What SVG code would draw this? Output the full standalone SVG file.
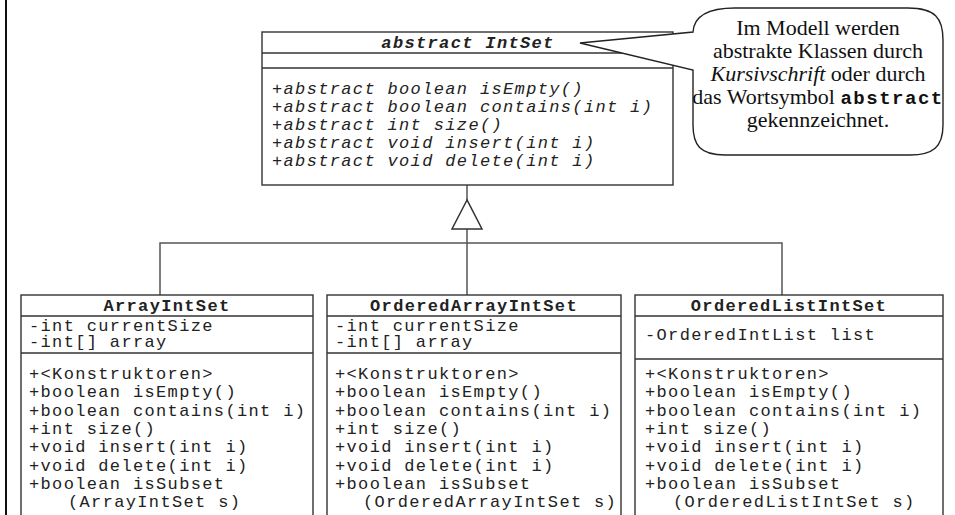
<svg xmlns="http://www.w3.org/2000/svg" width="955" height="515" viewBox="0 0 955 515">
<style>
.box{fill:#fff;stroke:#333;stroke-width:1.4}
.div{stroke:#333;stroke-width:1.4}
.mono{font-family:"Liberation Mono","Courier New",monospace;font-size:17px;letter-spacing:1.35px;fill:#222}
.it{font-style:italic}
.title{font-weight:bold;text-anchor:middle}
.serif{font-family:"Liberation Serif","Times New Roman",serif;font-size:22px;fill:#111;text-anchor:middle}
.con{fill:none;stroke:#555;stroke-width:1.5}
</style>
<rect width="955" height="515" fill="#fff"/>
<line x1="6" y1="0" x2="6" y2="515" stroke="#111" stroke-width="2"/>

<g id="connectors">
<line class="con" x1="467" y1="185" x2="467" y2="200"/>
<line class="con" x1="467" y1="229" x2="467" y2="295"/>
<polyline class="con" points="160,295 160,243 782,243 782,295"/>
<polygon points="467,200 452,229 482,229" fill="#fff" stroke="#333" stroke-width="1.5"/>
</g>

<g id="IntSet">
<rect class="box" x="262" y="32" width="411" height="153"/>
<line class="div" x1="262" y1="53" x2="673" y2="53"/>
<line class="div" x1="262" y1="68" x2="673" y2="68"/>
<text class="mono it title" x="468" y="48">abstract IntSet</text>
<text class="mono it" x="272" y="93.5">+abstract boolean isEmpty()</text>
<text class="mono it" x="272" y="111.7">+abstract boolean contains(int i)</text>
<text class="mono it" x="272" y="129.9">+abstract int size()</text>
<text class="mono it" x="272" y="148.1">+abstract void insert(int i)</text>
<text class="mono it" x="272" y="166.3">+abstract void delete(int i)</text>
</g>

<g id="note">
<path d="M580,43 L693,32 C694,16 707,8 735,8 L908,8 C935,8 943,18 943,40 L943,125 C943,147 933,155 910,155 L725,155 C700,155 693,145 693,125 L693,70 Z" fill="#fff" stroke="#222" stroke-width="1.4"/>
<text class="serif" x="818" y="35">Im Modell werden</text>
<text class="serif" x="818" y="58">abstrakte Klassen durch</text>
<text class="serif" x="818" y="81"><tspan font-style="italic">Kursivschrift</tspan> oder durch</text>
<text class="serif" x="818" y="104">das Wortsymbol <tspan font-family="Liberation Mono, Courier New, monospace" font-weight="bold" font-size="19" letter-spacing="1.5">abstract</tspan></text>
<text class="serif" x="818" y="127">gekennzeichnet.</text>
</g>

<g id="ArrayIntSet">
<rect class="box" x="21" y="295" width="292" height="230"/>
<line class="div" x1="21" y1="316" x2="313" y2="316"/>
<line class="div" x1="21" y1="353" x2="313" y2="353"/>
<text class="mono title" x="167" y="311">ArrayIntSet</text>
<text class="mono" x="29" y="331">-int currentSize</text>
<text class="mono" x="29" y="346.5">-int[] array</text>
<text class="mono" x="29" y="379">+&lt;Konstruktoren&gt;</text>
<text class="mono" x="29" y="397.3">+boolean isEmpty()</text>
<text class="mono" x="29" y="415.6">+boolean contains(int i)</text>
<text class="mono" x="29" y="433.9">+int size()</text>
<text class="mono" x="29" y="452.2">+void insert(int i)</text>
<text class="mono" x="29" y="470.5">+void delete(int i)</text>
<text class="mono" x="29" y="488.8">+boolean isSubset</text>
<text class="mono" x="68" y="507.1">(ArrayIntSet s)</text>
</g>

<g id="OrderedArrayIntSet">
<rect class="box" x="327" y="295" width="294" height="230"/>
<line class="div" x1="327" y1="316" x2="621" y2="316"/>
<line class="div" x1="327" y1="353" x2="621" y2="353"/>
<text class="mono title" x="474" y="311">OrderedArrayIntSet</text>
<text class="mono" x="335" y="331">-int currentSize</text>
<text class="mono" x="335" y="346.5">-int[] array</text>
<text class="mono" x="335" y="379">+&lt;Konstruktoren&gt;</text>
<text class="mono" x="335" y="397.3">+boolean isEmpty()</text>
<text class="mono" x="335" y="415.6">+boolean contains(int i)</text>
<text class="mono" x="335" y="433.9">+int size()</text>
<text class="mono" x="335" y="452.2">+void insert(int i)</text>
<text class="mono" x="335" y="470.5">+void delete(int i)</text>
<text class="mono" x="335" y="488.8">+boolean isSubset</text>
<text class="mono" x="363" y="507.1">(OrderedArrayIntSet s)</text>
</g>

<g id="OrderedListIntSet">
<rect class="box" x="635" y="295" width="308" height="230"/>
<line class="div" x1="635" y1="316" x2="943" y2="316"/>
<line class="div" x1="635" y1="359" x2="943" y2="359"/>
<text class="mono title" x="789" y="311">OrderedListIntSet</text>
<text class="mono" x="645" y="339.5">-OrderedIntList list</text>
<text class="mono" x="645" y="379">+&lt;Konstruktoren&gt;</text>
<text class="mono" x="645" y="397.3">+boolean isEmpty()</text>
<text class="mono" x="645" y="415.6">+boolean contains(int i)</text>
<text class="mono" x="645" y="433.9">+int size()</text>
<text class="mono" x="645" y="452.2">+void insert(int i)</text>
<text class="mono" x="645" y="470.5">+void delete(int i)</text>
<text class="mono" x="645" y="488.8">+boolean isSubset</text>
<text class="mono" x="673" y="507.1">(OrderedListIntSet s)</text>
</g>
</svg>
